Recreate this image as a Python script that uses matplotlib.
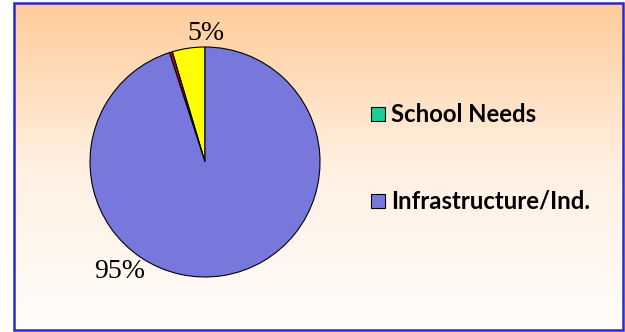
import numpy as np
import matplotlib.pyplot as plt
from matplotlib.colors import LinearSegmentedColormap
from matplotlib.patches import Rectangle

# Budget split (percent of total)
slice_values = [4.6, 0.4, 95.0]
slice_colors = ['#FFFF00', '#E00000', '#7878DC']
pct_labels = ['5%', '', '95%']

legend_labels = ['School Needs', 'Infrastructure/Ind.']
legend_colors = ['#1FCB97', '#7878DC']

W, H = 625, 332
fig = plt.figure(figsize=(W / 100, H / 100), dpi=100)
ax = fig.add_axes([0, 0, 1, 1])

# Peach-to-white vertical gradient background inside the frame
grad = np.linspace(0, 1, 256).reshape(-1, 1)
cmap = LinearSegmentedColormap.from_list('bg', ['#FFFDFB', '#FFF0E2', '#FFCC99'])
ax.imshow(grad, cmap=cmap, extent=[14, 623, 2, 329], origin='lower',
          aspect='auto', zorder=0)
ax.add_patch(Rectangle((14, 2), 609, 327, fill=False, edgecolor='#2B2BC8',
                       linewidth=1.8, zorder=5))

cx, cy, r = 205, 170, 115
wedges, _ = ax.pie(slice_values, colors=slice_colors, startangle=90,
                   counterclock=True, center=(cx, cy), radius=r,
                   wedgeprops=dict(edgecolor='black', linewidth=0.8),
                   frame=True)

# Percentage labels
ax.text(206, 299, pct_labels[0], ha='center', va='center', fontsize=20,
        family='Liberation Serif')
ax.text(120, 60, pct_labels[2], ha='center', va='center', fontsize=20,
        family='Liberation Serif')

# Legend drawn by hand
for i, (lab, col) in enumerate(zip(legend_labels, legend_colors)):
    y = 218 - i * 87
    ax.add_patch(Rectangle((371, y - 7), 14, 14, facecolor=col,
                           edgecolor='black', linewidth=0.8, zorder=4))
    ax.text(391, y, lab, ha='left', va='center', fontsize=17.2,
            fontweight='bold', family='Lato', zorder=4)

ax.set_xlim(0, W)
ax.set_ylim(0, H)
ax.set_aspect('auto')
ax.axis('off')

fig.savefig('out.png', dpi=100)
